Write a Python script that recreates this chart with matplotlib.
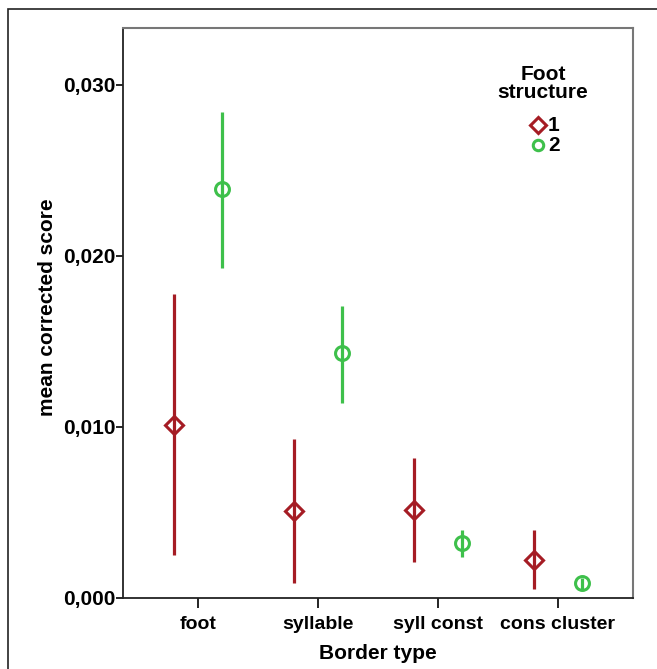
import matplotlib.pyplot as plt
from matplotlib.patches import Rectangle
from matplotlib.ticker import FuncFormatter

plt.rcParams['font.family'] = ['Liberation Sans', 'DejaVu Sans']
plt.rcParams['font.weight'] = 'bold'

# data
categories = ["foot", "syllable", "syll const", "cons cluster"]
groups = ["1", "2"]
mean_1 = [0.0101, 0.0051, 0.00515, 0.0022]
low_1 = [0.0025, 0.0009, 0.0021, 0.0005]
high_1 = [0.0178, 0.0093, 0.0082, 0.0040]
mean_2 = [0.0239, 0.0143, 0.0032, 0.0009]
low_2 = [0.0193, 0.0114, 0.0024, 0.00053]
high_2 = [0.0284, 0.0171, 0.0040, 0.00117]

red = "#a51c24"
green = "#3ec04b"

fig = plt.figure(figsize=(6.57, 6.69), dpi=100)
ax = fig.add_axes([123/657, 1 - 598/669, 510/657, 570/669])

# outer frame of the original figure
fig.patches.append(Rectangle((8/657, -0.1), 1.2, 1 - 9/669 + 0.1,
                             transform=fig.transFigure, fill=False,
                             edgecolor="#222222", lw=1.2))

x = list(range(len(categories)))
off = 0.2

def draw(xs, m, lo, hi, color, marker, ms):
    err = [[a - b for a, b in zip(m, lo)], [c - a for a, c in zip(m, hi)]]
    ax.errorbar(xs, m, yerr=err, fmt=marker, color=color, ecolor=color,
                elinewidth=2.3, capsize=0, markersize=ms,
                markerfacecolor="none", markeredgewidth=2.2, zorder=3)

draw([i - off for i in x], mean_1, low_1, high_1, red, "D", 9.5)
draw([i + off for i in x], mean_2, low_2, high_2, green, "o", 10)

ax.set_xlim(-0.625, 3.625)
ax.set_ylim(0, 0.03333)
ax.set_xticks(x)
ax.set_xticklabels(categories, fontsize=14, fontweight="bold")
ax.set_yticks([0, 0.01, 0.02, 0.03])
ax.yaxis.set_major_formatter(FuncFormatter(lambda v, p: f"{v:.3f}".replace(".", ",")))
ax.tick_params(axis="y", labelsize=15, length=5, width=1.2, direction="out", pad=0.5)
ax.tick_params(axis="x", labelsize=14, length=7, width=1.2, direction="out", pad=6)
for lab in ax.get_yticklabels():
    lab.set_fontweight("bold")

ax.set_xlabel("Border type", fontsize=15, fontweight="bold", labelpad=8)
ax.set_ylabel("mean corrected score", fontsize=15, fontweight="bold")
ax.yaxis.set_label_coords(-0.13, 0.51)

for s in ["left", "bottom"]:
    ax.spines[s].set_color("#222222")
    ax.spines[s].set_linewidth(1.3)
for s in ["top", "right"]:
    ax.spines[s].set_color("#777777")
    ax.spines[s].set_linewidth(1.5)

# legend, placed by hand like the SPSS one
ax.text(0.8235, 0.935, "Foot\nstructure", transform=ax.transAxes,
        ha="center", va="top", multialignment="center", fontsize=15,
        fontweight="bold", linespacing=0.95)
ax.plot([0.8137], [0.8298], transform=ax.transAxes, ls="none", marker="D",
        color=red, markerfacecolor="none", markersize=8, markeredgewidth=2.2,
        clip_on=False)
ax.plot([0.8137], [0.7947], transform=ax.transAxes, ls="none", marker="o",
        color=green, markerfacecolor="none", markersize=7.5, markeredgewidth=2.2,
        clip_on=False)
ax.text(0.833, 0.8298, groups[0], transform=ax.transAxes, ha="left",
        va="center", fontsize=15, fontweight="bold")
ax.text(0.833, 0.7947, groups[1], transform=ax.transAxes, ha="left",
        va="center", fontsize=15, fontweight="bold")

fig.savefig("out.png", dpi=100)
